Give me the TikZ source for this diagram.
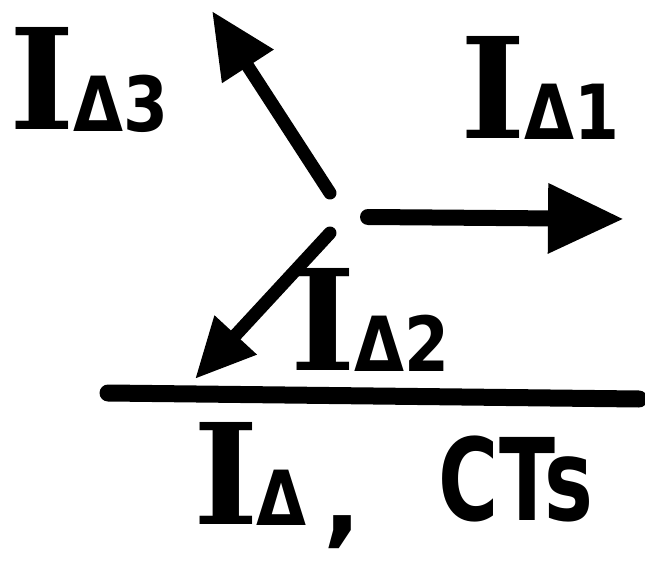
\documentclass[tikz,border=0pt]{standalone}
\usepackage{fontspec}
\setmainfont{DejaVu Sans}
\newfontfamily\serifI{DejaVu Serif}
\usetikzlibrary{arrows.meta}
\newcommand{\bigI}[1]{{\fontsize{140}{140}\selectfont\serifI\bfseries I}\hspace{-2pt}\raisebox{-0.14em}{\fontsize{76}{76}\selectfont\bfseries\scalebox{0.85}[1]{#1}}}
\tikzset{
  vecA/.style={line width=13pt, line cap=round, -{Triangle[length=66pt,width=58pt]}},
  vecB/.style={line width=16pt, line cap=round, -{Triangle[length=76pt,width=66pt]}},
  vecC/.style={line width=13pt, line cap=round, -{Triangle[length=60pt,width=54pt]}},
  lbl/.style={inner sep=0pt, anchor=center},
  bar/.style={line width=17pt, line cap=round}
}
\begin{document}
\begin{tikzpicture}[x=1pt,y=-1pt]
\useasboundingbox (0,0) rectangle (645,564);
\coordinate (o3) at (330,193);
\coordinate (t3) at (212,11);
\coordinate (o1) at (368,217);
\coordinate (t1) at (624,219);
\coordinate (o2) at (330,233);
\coordinate (t2) at (195,379);
\coordinate (b1) at (108,393);
\coordinate (b2) at (639,399);
\draw[vecA] (o3) -- (t3);
\draw[vecB] (o1) -- (t1);
\draw[vecC] (o2) -- (t2);
\draw[bar] (b1) -- (b2);
\node[lbl] (l3) at (89,80) {\bigI{Δ3}};
\node[lbl] (l1) at (540,88) {\bigI{Δ1}};
\node[lbl] (l2) at (370,320) {\bigI{Δ2}};
\node[lbl] (l0) at (250,474) {\bigI{Δ}};
\node[lbl] (cm) at (342,532) {\fontsize{100}{100}\selectfont\bfseries ,};
\node[lbl] (lc) at (516,479) {\fontsize{114}{114}\selectfont\bfseries\scalebox{0.72}[1]{CTs}};
\end{tikzpicture}
\end{document}
